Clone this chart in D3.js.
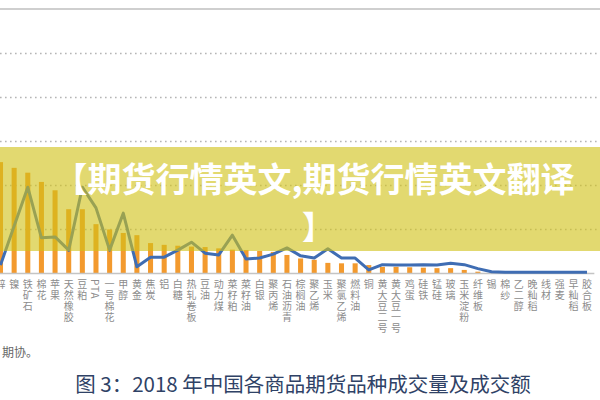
<!DOCTYPE html>
<html><head><meta charset="utf-8">
<script src="https://cdn.jsdelivr.net/npm/d3@7"></script>
<style>
html,body{margin:0;padding:0;background:#fff;}
svg{display:block;}
</style></head>
<body>
<svg id="c" width="600" height="400"></svg>
<script>
// categories (x-axis labels)
const categories = ["锌","镍","铁矿石","棉花","苹果","天然橡胶","豆粕","PTA","一号棉花","甲醇","黄金","焦炭","铝","白糖","热轧卷板","豆油","动力煤","菜籽粕","菜籽油","白银","聚丙烯","石油沥青","棕榈油","聚乙烯","玉米","聚氯乙烯","燃料油","铜","黄大豆二号","黄大豆一号","鸡蛋","硅铁","锰硅","玻璃","玉米淀粉","纤维板","锡","棉纱","乙二醇","晚籼稻","线材","强麦","早籼稻","胶合板"];
// volume (bars) in gridline units
const volume = [2.52,2.39,2.28,2.07,1.88,1.45,1.45,1.11,0.99,0.91,0.86,0.68,0.64,0.62,0.60,0.59,0.56,0.53,0.52,0.50,0.48,0.41,0.33,0.30,0.23,0.22,0.22,0.18,0.14,0.14,0.13,0.12,0.11,0.11,0.07,0.03,0.004,0.003,0.003,0.002,0.002,0.002,0.001,0.001];
// turnover (line) in gridline units
const turnover = [0.18,1.07,1.95,0.80,0.82,0.52,1.95,1.48,0.52,1.36,0.14,0.36,0.36,0.52,0.70,0.45,0.41,0.86,0.32,0.34,0.43,0.57,0.39,0.34,0.55,0.34,0.34,0.07,0.19,0.18,0.18,0.19,0.18,0.22,0.19,0.10,0.03,0.015,0.015,0.015,0.015,0.015,0.015,0.015];
const gridTicks = [0,1,2,3,4,5];
const bannerLines = ["【期货行情英文,期货行情英文翻译","】"];
const footnote = "期协。";
const caption = "图 3：2018 年中国各商品期货品种成交量及成交额";

const svg = d3.select("#c");
const W = 600;
svg.append("rect").attr("width",600).attr("height",400).attr("fill","#fff");

const step = 13.64;
const x = d3.scaleBand().domain(categories)
  .range([0.5 - step/2, 0.5 - step/2 + step*categories.length])
  .paddingInner(0.63).paddingOuter(0.315);
const y = d3.scaleLinear().domain([0,6]).range([273,9]);

// top frame line
svg.append("line").attr("x1",0).attr("x2",W).attr("y1",y(6)).attr("y2",y(6))
  .attr("stroke","#cfcfcf").attr("stroke-width",2);

// dotted gridlines
const grid = svg.append("g")
  .call(d3.axisRight(y).tickValues(gridTicks.slice(1)).tickSize(W).tickFormat(""));
grid.select(".domain").remove();
grid.selectAll(".tick line").attr("stroke","#b5b5b5").attr("stroke-width",1.5).attr("stroke-dasharray","1.6,3.4");

// bars
svg.append("g").selectAll("rect").data(categories).join("rect")
  .attr("x",d=>x(d)).attr("width",x.bandwidth())
  .attr("y",(d,i)=>y(volume[i])).attr("height",(d,i)=>y(0)-y(volume[i]))
  .attr("fill","#f39a2e");

// baseline axis
const ax = svg.append("g").attr("transform",`translate(0,${y(0)})`)
  .call(d3.axisBottom(x).tickSize(0).tickFormat(""));
ax.select(".domain").attr("stroke","#c4c4c4").attr("stroke-width",1.5);

// line
const line = d3.line().x((d,i)=>x(categories[i])+x.bandwidth()/2).y(d=>y(d));
svg.append("path").datum(turnover).attr("d",line)
  .attr("fill","none").attr("stroke","#3f6db3").attr("stroke-width",3).attr("stroke-linejoin","round");

// vertical labels
const lab = svg.append("g").attr("font-family","'Noto Sans CJK SC', sans-serif")
  .attr("font-size",10).attr("fill","#8c8c8c");
lab.selectAll("text").data(categories).join("text")
  .attr("writing-mode","vertical-rl")
  .style("writing-mode","vertical-rl")
  .attr("letter-spacing",1)
  .attr("text-anchor","start")
  .attr("x",d=>x(d)+x.bandwidth()/2)
  .attr("y",279)
  .text(d=>d);

// footnote and caption
svg.append("text").attr("x",2).attr("y",357).attr("font-family","'Noto Sans CJK SC', sans-serif")
  .attr("font-size",12).attr("fill","#666").text(footnote);
svg.append("text").attr("x",303).attr("y",392).attr("text-anchor","middle")
  .attr("font-family","'Noto Sans CJK SC', sans-serif").attr("font-size",20.5)
  .attr("fill","#2f4266").text(caption);

// banner overlay
svg.append("rect").attr("x",0).attr("y",147).attr("width",W).attr("height",104)
  .attr("fill","rgb(208,193,24)").attr("fill-opacity",0.62);
const bt = svg.append("text").attr("font-family","'Noto Sans CJK SC', sans-serif")
  .attr("font-weight","bold").attr("fill","#fff").attr("text-anchor","middle");
bt.selectAll("tspan").data(bannerLines).join("tspan")
  .attr("font-size",(d,i)=> i===0 ? 34 : 32)
  .attr("x",(d,i)=> i===0 ? 314 : 318).attr("y",(d,i)=> i===0 ? 191.5 : 239).text(d=>d);
</script>
</body></html>
